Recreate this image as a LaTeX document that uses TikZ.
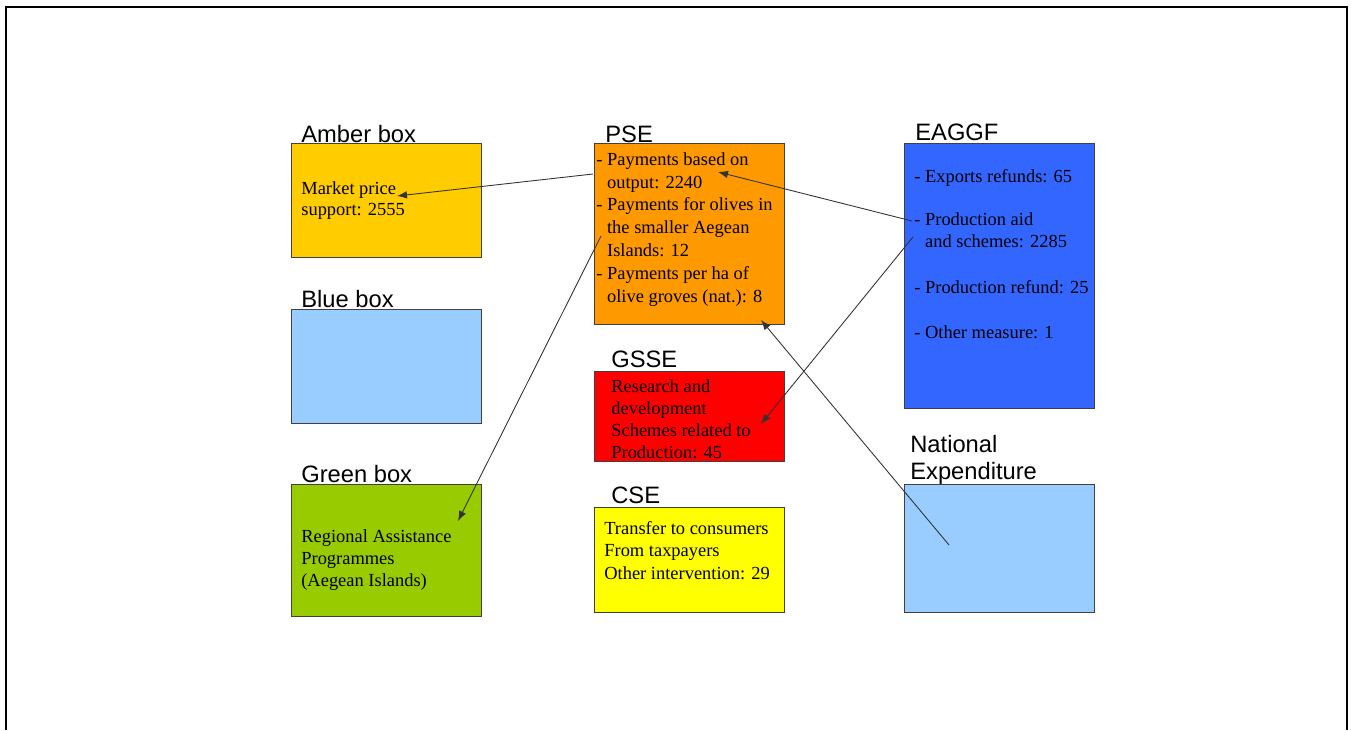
\documentclass[tikz,border=0pt]{standalone}
\usepackage{fontspec}
\setmainfont{Liberation Serif}
\setsansfont{Liberation Sans}
\usetikzlibrary{arrows.meta, positioning}
\definecolor{amberfill}{HTML}{FFCC00}
\definecolor{bluefill}{HTML}{99CCFF}
\definecolor{greenfill}{HTML}{99CC00}
\definecolor{psefill}{HTML}{FF9900}
\definecolor{gssefill}{HTML}{FF0000}
\definecolor{csefill}{HTML}{FFFF00}
\definecolor{eaggffill}{HTML}{3366FF}
\newcommand{\ind}{\hphantom{-}~}
\begin{document}
\begin{tikzpicture}[
        x=0.02cm, y=-0.02cm,
        box/.style={rectangle, draw=black!75, line width=0.5pt, anchor=north west, minimum width=3.8cm, inner sep=0},
        title/.style={anchor=base west, inner sep=0, font=\sffamily\fontsize{13.5}{15.3}\selectfont},
        body/.style={anchor=base west, inner sep=0, align=left, font=\fontsize{10.5}{#1}\selectfont},
        body/.default=12.5pt,
        arrow/.style={-{Latex[length=2mm, width=1.5mm]}, line width=0.5pt, draw=black!80}
    ]
        \useasboundingbox (0,0) rectangle (1351,730);
        \draw[line width=1.1pt] (6,730) -- (6,7) -- (1347,7) -- (1347,730);

        % left column (text nodes sit on their last baseline)
        \node[box, fill=amberfill, minimum height=2.28cm] (amber) at (291,143) {};
        \node[title] (ambert) at (301,142) {Amber box};
        \node[body=11.9pt] (ambertxt) at (301,215) {Market price\\support: 2555};

        \node[box, fill=bluefill, minimum height=2.28cm] (blue) at (291,309) {};
        \node[title] (bluet) at (301,307) {Blue box};

        \node[box, fill=greenfill, minimum height=2.64cm] (green) at (291,484) {};
        \node[title] (greent) at (301,482) {Green box};
        \node[body] (greentxt) at (301,586) {Regional Assistance\\Programmes\\(Aegean Islands)};

        % middle column
        \node[box, fill=psefill, minimum height=3.62cm] (pse) at (594,143) {};
        \node[title] (pset) at (605,142) {PSE};
        \node[body=12.95pt] (psetxt) at (596,302) {- Payments based on\\\ind output: 2240\\- Payments for olives in\\\ind the smaller Aegean\\\ind Islands: 12\\- Payments per ha of\\\ind olive groves (nat.): 8};

        \node[box, fill=gssefill, minimum height=1.8cm] (gsse) at (594,371) {};
        \node[title] (gsset) at (611,367) {GSSE};
        \node[body] (gssetxt) at (611,458) {Research and\\development\\Schemes related to\\Production: 45};

        \node[box, fill=csefill, minimum height=2.1cm] (cse) at (594,507) {};
        \node[title] (cset) at (611,503) {CSE};
        \node[body=12.75pt] (csetxt) at (604,579) {Transfer to consumers\\From taxpayers\\Other intervention: 29};

        % right column
        \node[box, fill=eaggffill, minimum height=5.3cm] (eaggf) at (904,143) {};
        \node[title] (eaggft) at (915,140) {EAGGF};
        \node[body] (eaggf1) at (914,182) {- Exports refunds: 65};
        \node[body] (eaggf2) at (914,247) {- Production aid\\\ind and schemes: 2285};
        \node[body] (eaggf3) at (914,293) {- Production refund: 25};
        \node[body] (eaggf4) at (914,338) {- Other measure: 1};

        \node[box, fill=bluefill, minimum height=2.56cm] (natexp) at (904,484) {};
        \node[title, align=left] (natexpt) at (910,479) {National\\Expenditure};

        % connector ends
        \coordinate (pseout) at (593,174);
        \coordinate (amberin) at (397,196);
        \coordinate (eaggfout) at (912,221);
        \coordinate (psein) at (718,172);
        \coordinate (pseout2) at (601,236);
        \coordinate (greenin) at (458,521);
        \coordinate (eaggfout2) at (913,237);
        \coordinate (gssein) at (761,424);
        \coordinate (natout) at (949,545);
        \coordinate (psein2) at (761,320);

        \draw[arrow] (pseout) -- (amberin);
        \draw[arrow] (eaggfout) -- (psein);
        \draw[arrow] (pseout2) -- (greenin);
        \draw[arrow] (eaggfout2) -- (gssein);
        \draw[arrow] (natout) -- (psein2);
    \end{tikzpicture}
\end{document}
